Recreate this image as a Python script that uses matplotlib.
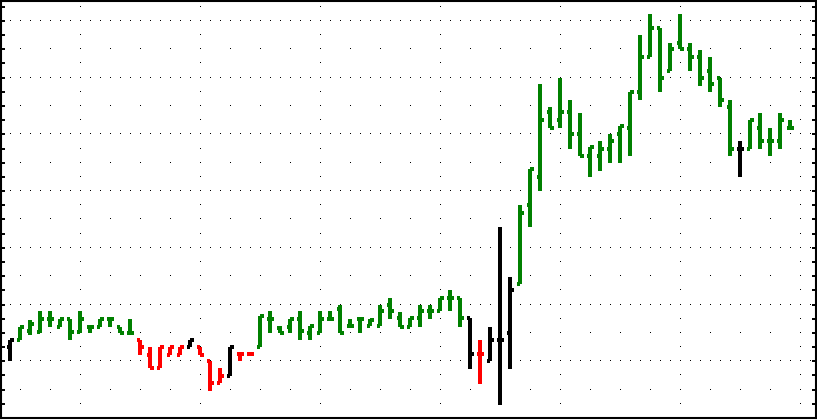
import numpy as np
import matplotlib
matplotlib.use("Agg")
import matplotlib.pyplot as plt

# OHLC values (one entry per bar)
opens = [12.5, 13.7, 15.3, 15.1, 17.5, 16.1, 17.5, 15.1, 16.1, 16.1, 17.5, 16.1, 14.9,
         13.7, 11.1, 8.8, 11.1, 11.1, 12.5, 12.5, 10.0, 6.1, 7.4, 11.2, 11.2,
         12.5, 17.5, 15.8, 16.1, 17.5, 14.9, 14.9, 17.5, 19.3, 16.3, 17.5, 16.3, 16.3, 20.0,
         17.7, 16.1, 17.7, 18.8, 18.8, 21.2, 21.2, 17.7, 11.2, 10.0, 13.7, 14.9,
         23.7, 37.5, 42.5, 53.9, 52.5, 53.9, 50.0, 46.1, 46.1, 47.5, 50.0, 51.2,
         57.5, 63.7, 68.8, 61.2, 66.1, 65.1, 63.7, 61.2, 60.0, 54.9, 47.5, 47.5,
         51.2, 48.8, 48.8, 51.2]
highs = [13.7, 16.1, 17.2, 18.8, 18.8, 17.5, 17.5, 18.9, 16.1, 17.5, 17.5, 16.1, 17.5,
         13.7, 12.5, 12.5, 12.5, 12.5, 13.7, 12.5, 10.0, 8.8, 12.6, 11.2, 11.2,
         17.9, 18.8, 16.3, 17.5, 18.8, 16.3, 18.8, 18.8, 20.0, 17.5, 17.5, 17.5, 20.0, 21.2,
         18.6, 17.7, 20.0, 20.0, 21.2, 22.5, 21.2, 17.7, 13.7, 16.1, 33.7, 24.9,
         37.5, 43.9, 58.8, 54.9, 60.0, 56.1, 53.7, 47.7, 48.8, 50.0, 51.4, 57.5,
         67.5, 71.2, 68.8, 66.1, 71.2, 66.1, 64.9, 63.7, 60.0, 56.0, 48.8, 52.5,
         53.7, 51.2, 53.7, 52.5]
lows = [10.0, 13.7, 14.6, 14.9, 16.1, 16.1, 13.7, 14.9, 14.9, 16.1, 16.1, 14.9, 14.9,
        11.1, 8.8, 8.8, 11.1, 11.1, 12.5, 11.1, 4.7, 6.1, 7.4, 10.0, 11.2,
        12.5, 14.9, 14.9, 14.9, 13.7, 13.7, 14.9, 17.5, 14.9, 16.3, 14.9, 16.3, 16.3, 17.5,
        16.1, 16.1, 16.1, 17.5, 18.8, 18.8, 16.1, 8.6, 6.0, 10.0, 2.3, 8.6,
        23.7, 33.7, 40.0, 51.2, 51.2, 47.5, 46.1, 42.5, 43.5, 44.9, 44.9, 46.1,
        56.1, 63.7, 57.5, 61.2, 65.1, 61.2, 58.6, 57.5, 54.9, 46.1, 42.5, 47.5,
        47.5, 46.1, 47.5, 51.2]
closes = [13.7, 16.0, 16.5, 17.5, 17.5, 17.5, 15.1, 17.5, 16.1, 17.5, 17.5, 14.9, 14.9,
          12.5, 8.8, 12.5, 12.5, 12.5, 13.7, 11.1, 6.1, 7.4, 12.6, 11.2, 11.2,
          17.9, 17.5, 14.9, 17.5, 15.3, 16.3, 17.5, 17.5, 14.9, 16.3, 17.5, 17.2, 18.8, 18.8,
          16.1, 17.7, 18.8, 18.8, 21.2, 21.2, 17.7, 11.2, 11.2, 13.7, 13.7, 22.5,
          36.1, 43.9, 52.5, 51.2, 53.9, 50.0, 46.1, 47.7, 47.5, 48.8, 51.4, 57.5,
          63.7, 68.8, 60.0, 65.1, 65.1, 63.7, 60.0, 58.8, 56.1, 47.5, 47.5, 52.5,
          48.8, 48.8, 52.5, 51.2]
# bar colour runs: g = up impulse, r = down impulse, k = neutral
impulse_runs = [("k", 1), ("g", 12), ("r", 5), ("k", 1), ("r", 3), ("k", 1), ("r", 2),
                ("g", 21), ("k", 1), ("r", 1), ("k", 3), ("g", 22), ("k", 1), ("g", 5)]

color_map = {"g": "#008000", "r": "#ff0000", "k": "#000000"}
cols = [color_map[c] for c, n in impulse_runs for _ in range(n)]
x = np.arange(1, len(opens) + 1)

fig = plt.figure(figsize=(8.17, 4.2), dpi=100)
ax = fig.add_axes([1 / 817, 2 / 420, 815 / 817, 417 / 420])
ax.set_xlim(0.1, 81.6)
ax.set_ylim(0.35, 73.5)

# dotted grid drawn as single pixels
xmaj = np.arange(1, 82)
xmin = np.arange(2, 82, 3)
gx = np.arange(8, 82, 12)
yt = np.arange(2.5, 73.5, 2.5)
for yv in np.arange(10, 71, 10):
    ax.plot(xmaj, np.full(len(xmaj), yv), ",", color="black")
for yv in np.arange(5, 71, 10):
    ax.plot(xmin, np.full(len(xmin), yv), ",", color="black")
for xv in gx:
    ax.plot(np.full(len(yt), xv), yt, ",", color="black")

lw = 1.45
tick = 0.35
ax.vlines(x, lows, highs, colors=cols, linewidth=lw, antialiased=False)
ax.hlines(opens, x - tick, x, colors=cols, linewidth=lw, antialiased=False)
ax.hlines(closes, x, x + tick, colors=cols, linewidth=lw, antialiased=False)

ax.set_xticks([])
ax.set_yticks(np.arange(0, 75, 2.5))
ax.tick_params(axis="y", direction="in", length=3, width=1.4, left=True, right=True,
               labelleft=False, labelright=False)
for s in ax.spines.values():
    s.set_linewidth(1.5)

fig.savefig("out.png", dpi=100)
